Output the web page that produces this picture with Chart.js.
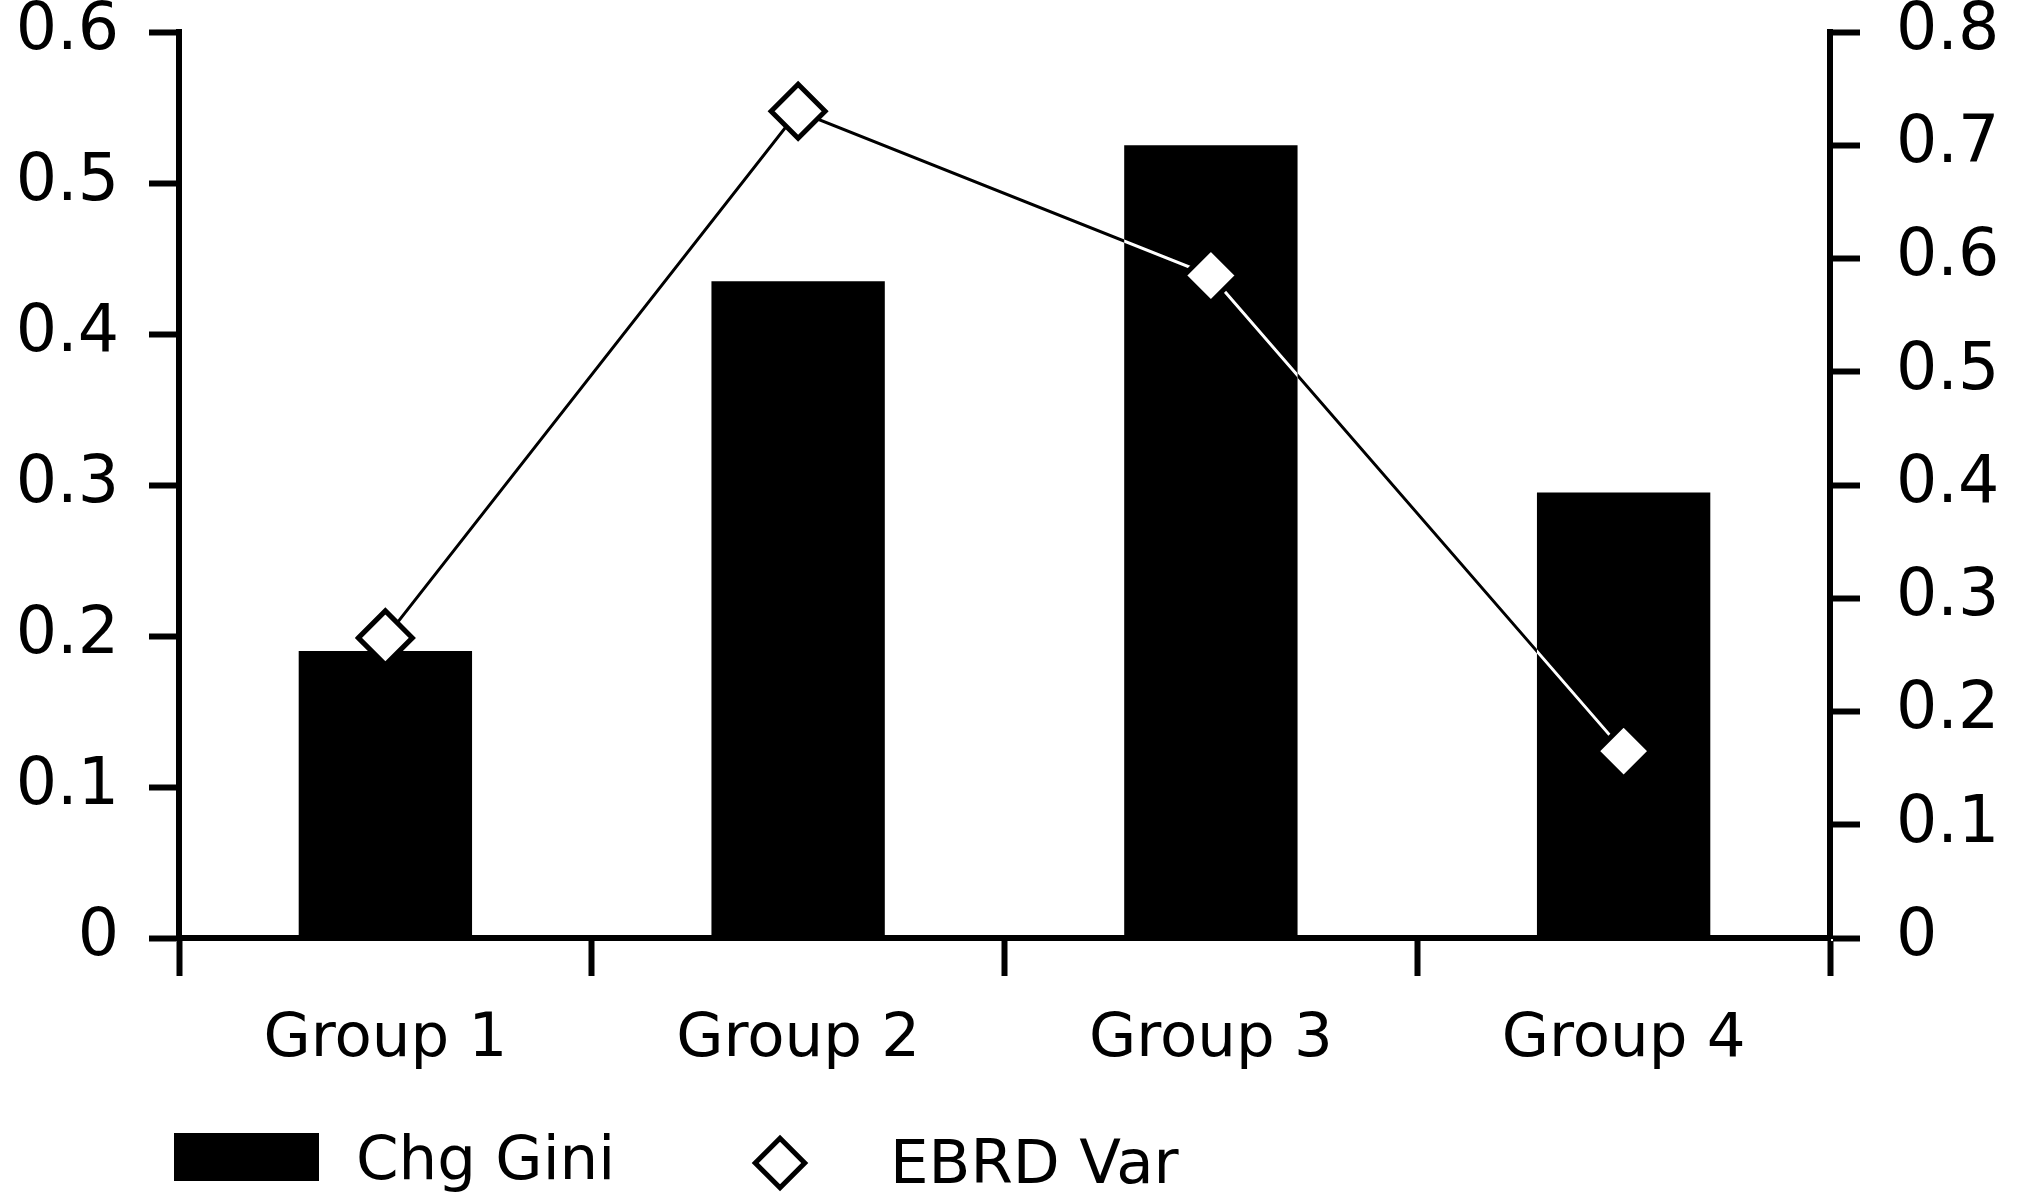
<!DOCTYPE html>
<html>
<head>
<meta charset="utf-8">
<script src="https://cdn.jsdelivr.net/npm/chart.js@4/dist/chart.umd.min.js"></script>
<style>
  html, body { margin: 0; padding: 0; background: #fff; }
  #wrap { position: relative; width: 2018px; height: 1194px; background: #fff; font-family: "DejaVu Sans", sans-serif; }
  #box { position: absolute; left: 0; top: 0; width: 2018px; height: 1072px; }
  .leg { position: absolute; color: #000; font-size: 61px; line-height: 1; }
  #legBar { position: absolute; left: 174px; top: 1133px; width: 145px; height: 48px; background: #000; }
  #legDiamond { position: absolute; left: 760px; top: 1143px; width: 30px; height: 30px; border: 5px solid #000; background: #fff; transform: rotate(45deg); }
</style>
</head>
<body>
<div id="wrap">
  <div id="box"><canvas id="grafica"></canvas></div>
  <div id="legBar"></div>
  <div class="leg" style="left:356px; top:1127px;">Chg Gini</div>
  <div id="legDiamond"></div>
  <div class="leg" style="left:890px; top:1131px;">EBRD Var</div>
</div>
<script>
const grupos = ['Group 1', 'Group 2', 'Group 3', 'Group 4'];
const chgGini = [0.19, 0.435, 0.525, 0.295];
const ebrdVar = [0.265, 0.73, 0.585, 0.165];
const ticksIzq = ['0', '0.1', '0.2', '0.3', '0.4', '0.5', '0.6'];
const ticksDer = ['0', '0.1', '0.2', '0.3', '0.4', '0.5', '0.6', '0.7', '0.8'];

const fuenteX = { family: 'DejaVu Sans', size: 61, lineHeight: 1 };
const fuenteY = { family: 'DejaVu Sans', size: 65, lineHeight: 1 };

// fondo blanco, y la linea se pinta en modo "difference": negra sobre blanco, blanca sobre las barras
const pluginFondo = {
    id: 'fondo',
    beforeDraw(chart) {
        const ctx = chart.ctx;
        ctx.save();
        ctx.fillStyle = '#fff';
        ctx.fillRect(0, 0, chart.width, chart.height);
        ctx.restore();
    },
    beforeDatasetDraw(chart, args) {
        if (chart.data.datasets[args.index].invertir) {
            chart.ctx.save();
            chart.ctx.globalCompositeOperation = 'difference';
        }
    },
    afterDatasetDraw(chart, args) {
        if (chart.data.datasets[args.index].invertir) chart.ctx.restore();
    }
};

const ctx = document.getElementById('grafica').getContext('2d');
new Chart(ctx, {
    data: {
        labels: grupos,
        datasets: [{
            type: 'bar',
            label: 'Chg Gini',
            data: chgGini,
            backgroundColor: '#000',
            borderWidth: 0,
            categoryPercentage: 1,
            barPercentage: 0.42,
            yAxisID: 'y',
            order: 3
        }, {
            type: 'line',
            label: 'EBRD Var',
            data: ebrdVar,
            borderColor: '#fff',
            borderWidth: 3,
            pointRadius: 0,
            tension: 0,
            fill: false,
            yAxisID: 'y2',
            invertir: true,
            order: 2
        }, {
            type: 'line',
            label: 'EBRD Var',
            data: ebrdVar,
            showLine: false,
            pointStyle: 'rectRot',
            pointRadius: 27,
            pointBorderWidth: 5,
            pointBorderColor: '#000',
            pointBackgroundColor: '#fff',
            yAxisID: 'y2',
            order: 1
        }]
    },
    options: {
        responsive: true,
        maintainAspectRatio: false,
        animation: false,
        events: [],
        layout: { padding: { left: 16, right: 17, top: 0, bottom: 0 } },
        plugins: { legend: { display: false }, tooltip: { enabled: false } },
        scales: {
            x: {
                offset: true,
                grid: { offset: true, drawOnChartArea: false, tickLength: 38, tickWidth: 6, tickColor: '#000' },
                border: { display: true, color: '#000', width: 6 },
                ticks: { color: '#000', font: fuenteX, padding: 34 },
                afterFit(s) { s.height = 134; }
            },
            y: {
                position: 'left',
                min: 0, max: 0.6,
                ticks: { stepSize: 0.1, color: '#000', font: fuenteY, padding: 30,
                    callback: (v, i) => ticksIzq[i] },
                grid: { drawOnChartArea: false, tickLength: 30, tickWidth: 6, tickColor: '#000' },
                border: { display: true, color: '#000', width: 6 },
                afterFit(s) { s.width = 163; s.paddingTop = 30; s.paddingBottom = 0; }
            },
            y2: {
                position: 'right',
                min: 0, max: 0.8,
                ticks: { stepSize: 0.1, color: '#000', font: fuenteY, padding: 36,
                    callback: (v, i) => ticksDer[i] },
                grid: { drawOnChartArea: false, tickLength: 30, tickWidth: 6, tickColor: '#000' },
                border: { display: true, color: '#000', width: 6 },
                afterFit(s) { s.width = 171; s.paddingTop = 30; s.paddingBottom = 0; }
            }
        }
    },
    plugins: [pluginFondo]
});
</script>
</body>
</html>
